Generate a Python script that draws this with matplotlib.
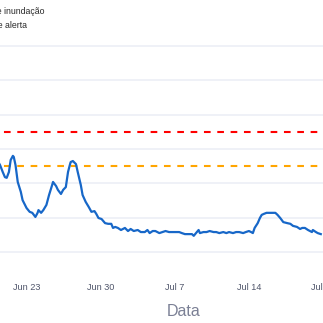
import matplotlib
matplotlib.use("Agg")
import matplotlib.pyplot as plt
import pandas as pd

plt.rcParams["font.family"] = ["Liberation Sans", "DejaVu Sans"]

# river level series: hours after 2024-06-23 00:00 and level (m)
T0 = pd.Timestamp("2024-06-23")
horas = [-69, -60, -54, -49, -45, -40, -36, -31, -29, -25, -20, -13, -9, 0, 7, 13, 20, 25, 27,
         33, 38, 45, 51, 58, 60, 67, 71, 78, 83, 89, 94, 98, 100, 105, 112, 116, 123, 127, 134,
         141, 147, 154, 158, 163, 170, 178, 185, 192, 196, 201, 207, 214, 223, 230, 236, 243,
         252, 259, 268, 274, 279, 286, 292, 301, 308, 315, 323, 330, 337, 346, 352, 359, 368,
         375, 379, 386, 390, 393, 401, 408, 415, 424, 430, 437, 446, 453, 459, 468, 475, 482,
         491, 497, 504, 509, 513, 517, 524, 529, 533, 538, 544, 553, 564, 569, 575, 582, 591,
         598, 604, 613, 620, 625, 631, 638, 647, 649, 656, 660, 667]
nivel = [4.74, 4.53, 4.33, 4.18, 4.16, 4.33, 4.68, 4.80, 4.77, 4.53, 4.04, 3.75, 3.51, 3.28,
         3.17, 3.14, 3.02, 3.14, 3.22, 3.14, 3.22, 3.37, 3.66, 3.95, 4.04, 3.92, 3.81, 3.69,
         3.81, 3.89, 4.33, 4.53, 4.62, 4.65, 4.56, 4.33, 3.95, 3.66, 3.46, 3.31, 3.17, 3.19,
         3.11, 2.99, 2.96, 2.84, 2.82, 2.82, 2.70, 2.73, 2.70, 2.64, 2.70, 2.61, 2.67, 2.61,
         2.64, 2.58, 2.58, 2.64, 2.55, 2.61, 2.61, 2.55, 2.58, 2.61, 2.58, 2.58, 2.58, 2.58,
         2.55, 2.52, 2.52, 2.52, 2.47, 2.58, 2.64, 2.55, 2.58, 2.58, 2.61, 2.58, 2.58, 2.55,
         2.58, 2.55, 2.58, 2.55, 2.58, 2.58, 2.55, 2.58, 2.61, 2.58, 2.55, 2.70, 2.84, 2.99,
         3.08, 3.11, 3.14, 3.14, 3.14, 3.08, 2.99, 2.87, 2.84, 2.82, 2.76, 2.73, 2.67, 2.70,
         2.70, 2.64, 2.58, 2.64, 2.58, 2.55, 2.52]
cota_inundacao = 5.5
cota_alerta = 4.5
grid_vals = [2, 3, 4, 5, 6, 7, 8]
tick_dates = ["2024-06-23", "2024-06-30", "2024-07-07", "2024-07-14", "2024-07-21"]
tick_labels = ["Jun 23", "Jun 30", "Jul 7", "Jul 14", "Jul 21"]

datas = [T0 + pd.Timedelta(hours=h) for h in horas]

fig = plt.figure(figsize=(3.23, 3.23), dpi=100)
ax = fig.add_axes([0, 0.158, 1, 0.718])

ax.axhline(cota_inundacao, color="#FF0000", lw=1.5, linestyle=(4.5, (3.2, 3.2)), zorder=3)
ax.axhline(cota_alerta, color="#FFA500", lw=1.5, linestyle=(4.5, (3.2, 3.2)), zorder=3)
ax.plot(datas, nivel, color="#1767c8", lw=1.6, zorder=4, solid_joinstyle="round")

ax.set_xlim(T0 + pd.Timedelta(hours=-60.2), T0 + pd.Timedelta(hours=660.2))
ax.set_ylim(1.417, 8.175)
ax.set_yticks(grid_vals)
ax.set_yticklabels([])
ax.set_xticks(pd.to_datetime(tick_dates))
ax.set_xticklabels(tick_labels)
ax.tick_params(axis="x", length=0, pad=8, labelsize=6.6, colors="#50566b")
ax.tick_params(axis="y", length=0)
ax.grid(axis="y", color="#ebeef5", lw=1.1, zorder=0)
for sp in ax.spines.values():
    sp.set_visible(False)

fig.text(184 / 323, 1 - 311 / 323, "Data", ha="center", va="center",
         fontsize=11.5, color="#7b8095")
# legend entries sit at the left edge of the plot
fig.text(44.5 / 323, 1 - 12 / 323, "Cota de inundação", ha="right", va="center",
         fontsize=6.3, color="#2a2a2a")
fig.text(27.5 / 323, 1 - 26 / 323, "Cota de alerta", ha="right", va="center",
         fontsize=6.3, color="#2a2a2a")

fig.savefig("out.png", dpi=100, facecolor="white")
